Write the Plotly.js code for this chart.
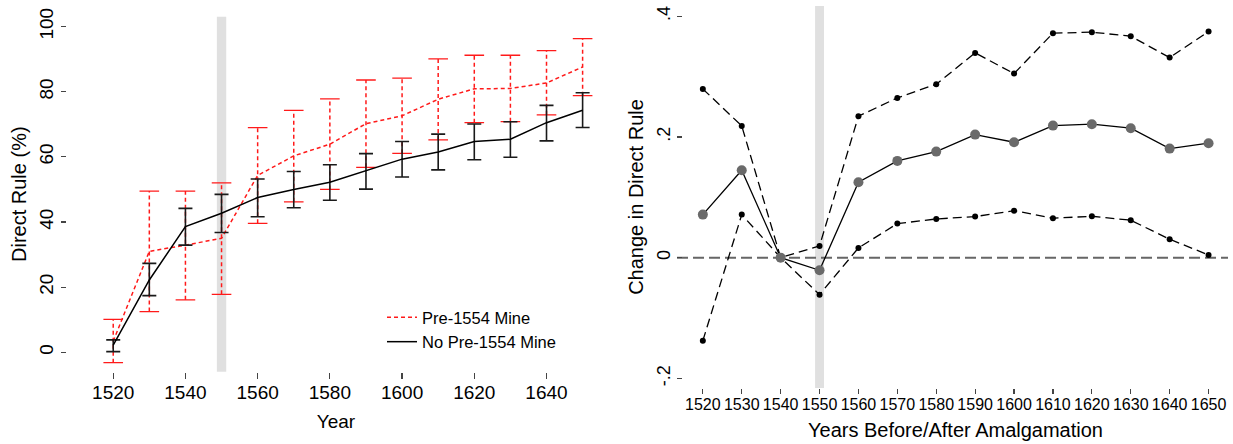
<!DOCTYPE html>
<html>
<head>
<meta charset="utf-8">
<script src="https://cdn.plot.ly/plotly-3.0.1.min.js"></script>
<style>html,body{margin:0;padding:0;background:#fff}#chart{width:1233px;height:444px}</style>
</head>
<body>
<div id="chart"></div>
<script>
// ---------- Left panel data ----------
var years = [1520,1530,1540,1550,1560,1570,1580,1590,1600,1610,1620,1630,1640,1650];
var mineMean = [3.4,31.0,32.9,35.0,54.3,60.3,63.9,70.2,72.6,77.7,80.9,81.0,82.7,87.6];
var mineLow  = [-3.2,12.5,16.1,17.8,39.6,46.2,50.0,56.8,61.1,65.2,70.5,70.8,72.9,78.8];
var mineHigh = [10.1,49.5,49.5,52.0,69.0,74.3,77.8,83.6,84.2,90.1,91.2,91.2,92.6,96.3];
var noMineMean = [2.2,22.2,38.6,42.7,47.5,50.0,52.2,55.7,59.3,61.5,64.7,65.4,70.5,74.3];
var noMineLow  = [0.2,17.4,32.9,36.8,41.6,44.4,46.7,50.1,53.8,56.0,59.1,59.9,64.9,69.0];
var noMineHigh = [3.8,27.3,44.2,48.5,53.2,55.5,57.6,61.0,64.7,67.0,70.1,70.8,75.8,79.7];
var leftXTicks = [1520,1540,1560,1580,1600,1620,1640];
var leftYTicks = [0,20,40,60,80,100];
var seriesNames = ["Pre-1554 Mine","No Pre-1554 Mine"];

// ---------- Right panel data ----------
var coef  = [0.0713,0.1449,0,-0.0209,0.125,0.1603,0.1757,0.2039,0.1912,0.2188,0.2211,0.2145,0.1807,0.1896];
var upper = [0.2796,0.2183,0,0.0194,0.2344,0.2647,0.2874,0.3393,0.305,0.372,0.3736,0.367,0.3315,0.3746];
var lower = [-0.1376,0.0713,0,-0.0613,0.0161,0.0564,0.0641,0.068,0.0779,0.0653,0.0686,0.062,0.0305,0.0045];
var rightYTicks = [-0.2,0,0.2,0.4];
var rightYLabels = ["-.2","0",".2",".4"];
var amalgamationYear = 1550;

// ---------- build helper arrays ----------
var whiskX = [], whiskY = [], capX = [], capY = [];
years.forEach(function(x,i){
  whiskX.push(x,x,null); whiskY.push(mineLow[i],mineHigh[i],null);
  capX.push(x,x); capY.push(mineLow[i],mineHigh[i]);
});
var errPlus = noMineHigh.map(function(v,i){return v-noMineMean[i];});
var errMinus = noMineMean.map(function(v,i){return v-noMineLow[i];});

var FONT = "Liberation Sans, Arial, Helvetica, sans-serif";
var RED = "#ff1a1a";

var traces = [
  {x:whiskX, y:whiskY, xaxis:'x', yaxis:'y', mode:'lines', showlegend:false, hoverinfo:'skip',
   line:{color:RED, width:1.5, dash:'4px,3px'}},
  {x:capX, y:capY, xaxis:'x', yaxis:'y', mode:'markers', showlegend:false, hoverinfo:'skip',
   marker:{symbol:'line-ew', size:14, line:{color:RED, width:1.3}}},
  {x:years, y:mineMean, xaxis:'x', yaxis:'y', mode:'lines', name:seriesNames[0],
   line:{color:RED, width:1.5, dash:'4px,3px'}},
  {x:years, y:noMineMean, xaxis:'x', yaxis:'y', mode:'lines', name:seriesNames[1],
   line:{color:'#000', width:1.5},
   error_y:{type:'data', symmetric:false, array:errPlus, arrayminus:errMinus, color:'#1a1a1a', thickness:1.6, width:7}},
  // right panel
  {x:years, y:upper, xaxis:'x2', yaxis:'y2', mode:'lines+markers', showlegend:false,
   line:{color:'#000', width:1.3, dash:'9px,5px'}, marker:{color:'#000', size:6}},
  {x:years, y:lower, xaxis:'x2', yaxis:'y2', mode:'lines+markers', showlegend:false,
   line:{color:'#000', width:1.3, dash:'9px,5px'}, marker:{color:'#000', size:6}},
  {x:years, y:coef, xaxis:'x2', yaxis:'y2', mode:'lines+markers', showlegend:false,
   line:{color:'#000', width:1.3}, marker:{color:'#6a6a6a', size:10}}
];

var W = 1233, H = 444;
function px(a,b){return [a/W, b/W];}
function py(top,bottom){return [(H-bottom)/H, (H-top)/H];}

var layout = {
  width:W, height:H,
  margin:{l:0,r:0,t:0,b:0},
  paper_bgcolor:'#fff', plot_bgcolor:'rgba(0,0,0,0)',
  font:{family:FONT, color:'#000'},
  showlegend:true,
  legend:{x:382/W, xanchor:'left', y:(H-300)/H, yanchor:'top', bgcolor:'rgba(0,0,0,0)',
          font:{size:16.5, family:FONT, color:'#000'}, tracegroupgap:0},
  xaxis:{domain:px(67,605), range:[1507.2,1656.2], anchor:'y',
         showgrid:false, zeroline:false, showline:false,
         tickmode:'array', tickvals:leftXTicks, ticks:'outside', ticklen:6, tickwidth:1.2, tickcolor:'#444',
         ticklabelstandoff:-3,
         tickfont:{size:19}, title:{text:'Year', font:{size:19}, standoff:13}},
  yaxis:{domain:py(16.7,371.7), range:[-5.96,103.04], anchor:'x',
         showgrid:false, zeroline:false, showline:false,
         tickmode:'array', tickvals:leftYTicks, tickangle:-90, ticks:'outside', ticklen:5, tickwidth:1.2, tickcolor:'#444',
         tickfont:{size:19}, title:{text:'Direct Rule (%)', font:{size:20}, standoff:4}},
  xaxis2:{domain:px(683,1228), range:[1514.9,1655.0], anchor:'y2',
         showgrid:false, zeroline:false, showline:false,
         tickmode:'array', tickvals:years, ticks:'outside', ticklen:5, tickwidth:1.2, tickcolor:'#444',
         ticklabelstandoff:-3,
         tickfont:{size:16}, title:{text:'Years Before/After Amalgamation', font:{size:20}, standoff:10}},
  yaxis2:{domain:py(6,388), range:[-0.216,0.417], anchor:'x2',
         showgrid:false, zeroline:false, showline:false,
         tickmode:'array', tickvals:rightYTicks, ticktext:rightYLabels, tickangle:-90,
         ticks:'outside', ticklen:5, tickwidth:1.2, tickcolor:'#444',
         tickfont:{size:18}, title:{text:'Change in Direct Rule', font:{size:20}, standoff:4}},
  shapes:[
    {type:'rect', xref:'x', yref:'y domain', x0:amalgamationYear-1.3, x1:amalgamationYear+1.3, y0:0, y1:1,
     fillcolor:'#e0e0e0', line:{width:0}, layer:'below'},
    {type:'rect', xref:'x2', yref:'y2 domain', x0:amalgamationYear-1.15, x1:amalgamationYear+1.15, y0:0, y1:1,
     fillcolor:'#e0e0e0', line:{width:0}, layer:'below'},
    {type:'line', xref:'x2 domain', yref:'y2', x0:-0.011, x1:1, y0:0, y1:0,
     line:{color:'#666', width:2, dash:'11px,5px'}, layer:'below'}
  ]
};

Plotly.newPlot('chart', traces, layout, {staticPlot:true, displayModeBar:false});
</script>
</body>
</html>
